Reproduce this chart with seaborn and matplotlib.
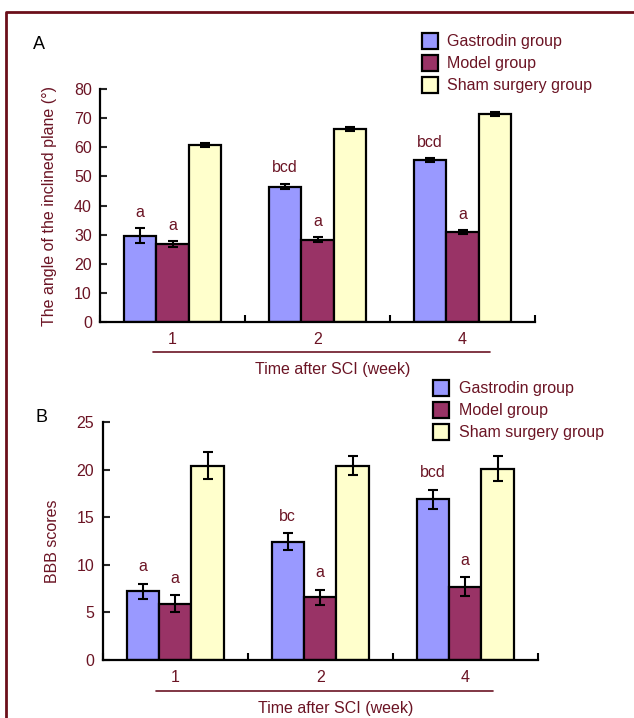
import pandas as pd
import seaborn as sns
import matplotlib.pyplot as plt
from matplotlib.lines import Line2D

weeks = ["1", "2", "4"]
groups = ["Gastrodin group", "Model group", "Sham surgery group"]

angle_gastrodin = [29.7, 46.5, 55.5]
angle_model = [26.7, 28.3, 30.8]
angle_sham = [60.8, 66.4, 71.3]
angle_err_gastrodin = [2.5, 0.9, 0.7]
angle_err_model = [1.0, 0.8, 0.7]
angle_err_sham = [0.8, 0.7, 0.7]
angle_marks_gastrodin = ["a", "bcd", "bcd"]
angle_marks_model = ["a", "a", "a"]

bbb_gastrodin = [7.2, 12.4, 16.9]
bbb_model = [5.9, 6.6, 7.7]
bbb_sham = [20.4, 20.4, 20.1]
bbb_err_gastrodin = [0.8, 0.9, 1.0]
bbb_err_model = [0.9, 0.8, 1.0]
bbb_err_sham = [1.4, 1.0, 1.3]
bbb_marks_gastrodin = ["a", "bc", "bcd"]
bbb_marks_model = ["a", "a", "a"]

colors = ["#9999FF", "#993366", "#FFFFCC"]
maroon = "#6B1424"
fs = 11.5

sns.set_theme(style="ticks")
plt.rcParams["font.family"] = ["Liberation Sans", "DejaVu Sans"]


def build(g, m, s, eg, em, es):
    rows = []
    for vals, errs, grp in [(g, eg, groups[0]), (m, em, groups[1]), (s, es, groups[2])]:
        for w, v, e in zip(weeks, vals, errs):
            rows.append({"week": w, "group": grp, "value": v, "err": e})
    return pd.DataFrame(rows)


def panel(ax, df, ymax, ystep, ylabel, marks_g, marks_m, mark_off, letter, leg_pos):
    sns.barplot(data=df, x="week", y="value", hue="group", order=weeks,
                hue_order=groups, palette=colors, width=0.67, saturation=1,
                edgecolor="black", linewidth=1.6, errorbar=None, ax=ax)
    # error bars at the bar centres
    for grp, cont in zip(groups, ax.containers):
        sub = df[df["group"] == grp].set_index("week").loc[weeks]
        for bar, v, e in zip(cont, sub["value"], sub["err"]):
            cx = bar.get_x() + bar.get_width() / 2
            ax.errorbar(cx, v, yerr=e, fmt="none", ecolor="black",
                        elinewidth=1.5, capsize=3.5, capthick=1.5, zorder=5)
    # significance letters
    for cont, marks, grp in [(ax.containers[0], marks_g, groups[0]),
                             (ax.containers[1], marks_m, groups[1])]:
        sub = df[df["group"] == grp].set_index("week").loc[weeks]
        for bar, mk, v, e in zip(cont, marks, sub["value"], sub["err"]):
            cx = bar.get_x() + bar.get_width() / 2
            ax.text(cx, v + e + mark_off, mk, ha="center", va="bottom",
                    fontsize=fs, color=maroon)

    ax.set_ylim(0, ymax)
    ax.set_xlim(-0.5, 2.5)
    ax.set_yticks(range(0, ymax + 1, ystep))
    ax.set_xticks([-0.5, 0.5, 1.5, 2.5], minor=True)
    ax.tick_params(axis="x", which="major", length=0, pad=7,
                   labelsize=fs, labelcolor=maroon)
    ax.tick_params(axis="x", which="minor", direction="in", length=5,
                   width=1.5, color="black")
    ax.tick_params(axis="y", direction="in", length=5, width=1.5,
                   labelsize=fs, labelcolor=maroon, pad=6)
    for sp in ["top", "right"]:
        ax.spines[sp].set_visible(False)
    for sp in ["left", "bottom"]:
        ax.spines[sp].set_linewidth(1.6)
        ax.spines[sp].set_color("black")
    ax.set_xlabel("")
    ax.set_ylabel(ylabel, fontsize=fs, color=maroon, labelpad=12)

    ax.add_line(Line2D([0.122, 0.897], [-0.13, -0.13], transform=ax.transAxes,
                       color=maroon, lw=1.2, clip_on=False))
    ax.text(0.535, -0.205, "Time after SCI (week)", transform=ax.transAxes,
            ha="center", va="center", fontsize=fs, color=maroon)
    ax.text(-0.14, letter[1], letter[0], transform=ax.transAxes,
            ha="center", va="center", fontsize=13, color="black")

    leg = ax.legend(loc="upper left", bbox_to_anchor=leg_pos, frameon=False,
                    fontsize=fs, handlelength=1.0, handleheight=1.2,
                    handletextpad=0.6, labelspacing=0.35, borderaxespad=0)
    for t in leg.get_texts():
        t.set_color(maroon)
    for h in leg.legend_handles:
        h.set_edgecolor("black")
        h.set_linewidth(1.6)


fig = plt.figure(figsize=(6.34, 7.18), dpi=100)
ax1 = fig.add_axes([0.158, 0.5515, 0.686, 0.3245])
ax2 = fig.add_axes([0.162, 0.0808, 0.686, 0.3315])

dfa = build(angle_gastrodin, angle_model, angle_sham,
            angle_err_gastrodin, angle_err_model, angle_err_sham)
dfb = build(bbb_gastrodin, bbb_model, bbb_sham,
            bbb_err_gastrodin, bbb_err_model, bbb_err_sham)

panel(ax1, dfa, 80, 10, "The angle of the inclined plane (°)",
      angle_marks_gastrodin, angle_marks_model, 3.0, ("A", 1.19), (0.725, 1.27))
panel(ax2, dfb, 25, 5, "BBB scores",
      bbb_marks_gastrodin, bbb_marks_model, 1.0, ("B", 1.02), (0.745, 1.205))

# outer frame
fig.add_artist(Line2D([6 / 634, 6 / 634, 1.0], [0.0, 1 - 12 / 718, 1 - 12 / 718],
                      transform=fig.transFigure, color="#6B0F1A", lw=2))

fig.savefig("out.png", dpi=100)
